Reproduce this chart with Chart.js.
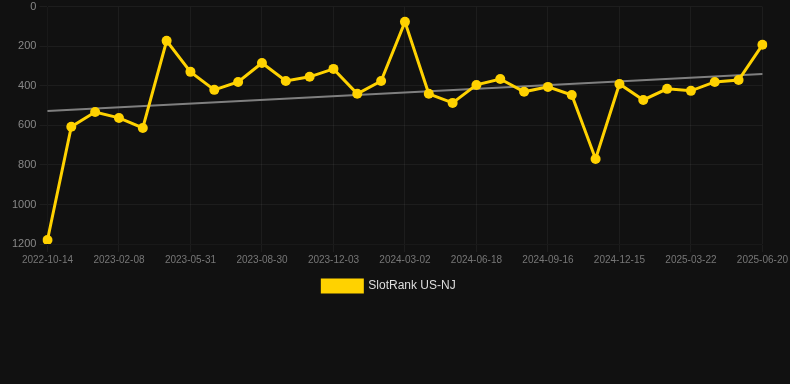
<!DOCTYPE html>
<html lang="en">
<head>
    <meta charset="UTF-8">
    <title>SlotRank US-NJ</title>
    <script src="https://cdn.jsdelivr.net/npm/chart.js"></script>
    <style>
        html, body {
            margin: 0;
            padding: 0;
            background: #111111;
        }
        #wrap {
            width: 790px;
            height: 302px;
        }
    </style>
</head>
<body>
    <div id="wrap">
        <canvas id="rankChart"></canvas>
    </div>

    <script>
        const dates = [
            '2022-10-14', '2022-11-22', '2022-12-31', '2023-02-08', '2023-03-18', '2023-04-24',
            '2023-05-31', '2023-06-30', '2023-07-30', '2023-08-30', '2023-09-30', '2023-11-01',
            '2023-12-03', '2024-01-02', '2024-02-01', '2024-03-02', '2024-04-07', '2024-05-13',
            '2024-06-18', '2024-07-18', '2024-08-17', '2024-09-16', '2024-10-16', '2024-11-15',
            '2024-12-15', '2025-01-19', '2025-02-18', '2025-03-22', '2025-04-21', '2025-05-21',
            '2025-06-20'
        ];
        const ranks = [
            1180, 607, 532, 562, 613, 172,
            329, 420, 380, 284, 375, 354,
            314, 440, 375, 76, 440, 486,
            395, 365, 430, 405, 446, 770,
            390, 471, 415, 425, 380, 370,
            192
        ];
        const trendEnds = [527, 340];
        const yTicks = [0, 200, 400, 600, 800, 1000, 1200];

        const trend = dates.map((d, i) => {
            if (i === 0) return trendEnds[0];
            if (i === dates.length - 1) return trendEnds[1];
            return null;
        });

        const gridColor = 'rgba(255, 255, 255, 0.05)';
        const font = 'Liberation Sans, Arial, sans-serif';

        const ctx = document.getElementById('rankChart').getContext('2d');
        new Chart(ctx, {
            type: 'line',
            data: {
                labels: dates,
                datasets: [{
                    label: 'SlotRank US-NJ',
                    data: ranks,
                    borderColor: '#ffd200',
                    backgroundColor: '#ffd200',
                    borderWidth: 3,
                    pointRadius: 5,
                    pointBackgroundColor: '#ffd200',
                    pointBorderWidth: 0,
                    tension: 0
                }, {
                    label: 'trend',
                    data: trend,
                    borderColor: 'rgba(140, 140, 140, 0.9)',
                    borderWidth: 2,
                    pointRadius: 0,
                    spanGaps: true
                }]
            },
            options: {
                responsive: true,
                maintainAspectRatio: false,
                animation: false,
                layout: {
                    padding: { left: 9, right: 21 }
                },
                scales: {
                    x: {
                        grid: {
                            color: c => (c.index % 3 === 0 ? gridColor : 'rgba(0,0,0,0)')
                        },
                        ticks: {
                            color: '#777',
                            padding: 2,
                            font: { family: font, size: 10 },
                            autoSkip: false,
                            maxRotation: 0,
                            callback: function(val, i) {
                                return i % 3 === 0 ? dates[i] : '';
                            }
                        }
                    },
                    y: {
                        reverse: true,
                        min: yTicks[0],
                        max: yTicks[yTicks.length - 1],
                        grid: { color: gridColor },
                        ticks: {
                            stepSize: 200,
                            color: '#888',
                            font: { family: font, size: 11, lineHeight: 0.7 },
                            callback: v => String(v)
                        }
                    }
                },
                plugins: {
                    legend: {
                        position: 'bottom',
                        labels: {
                            color: '#ddd',
                            padding: 12,
                            font: { family: font, size: 12 },
                            filter: item => item.text !== 'trend'
                        }
                    },
                    tooltip: { enabled: false }
                }
            }
        });
    </script>
</body>
</html>
